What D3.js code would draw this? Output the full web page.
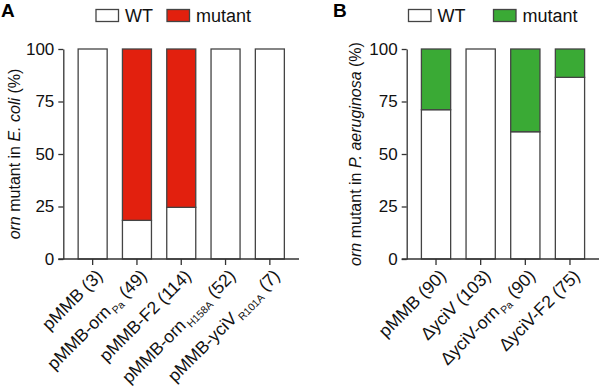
<!DOCTYPE html>
<html>
<head>
<meta charset="utf-8">
<script src="https://cdn.jsdelivr.net/npm/d3@7"></script>
<style>
  body { margin: 0; background: #fff; }
  svg { font-family: "Liberation Sans", Arial, sans-serif; }
</style>
</head>
<body>
<svg id="chart" width="600" height="390"></svg>
<script>
// panel A data (E. coli)
var catsA = ["pMMB (3)", "pMMB-orn Pa (49)", "pMMB-F2 (114)", "pMMB-orn H158A (52)", "pMMB-yciV R101A (7)"];
var wtA = [100, 18.4, 24.6, 100, 100];
var mutA = [0, 81.6, 75.4, 0, 0];

// panel B data (P. aeruginosa)
var catsB = ["pMMB (90)", "ΔyciV (103)", "ΔyciV-orn Pa (90)", "ΔyciV-F2 (75)"];
var wtB = [71.1, 100, 60.6, 86.5];
var mutB = [28.9, 0, 39.4, 13.5];

var yTicks = [0, 25, 50, 75, 100];

// label pieces: [text, subscript, rest]
var labelsA = [["pMMB (3)", "", ""], ["pMMB-orn", "Pa", " (49)"], ["pMMB-F2 (114)", "", ""],
               ["pMMB-orn", "H158A", " (52)"], ["pMMB-yciV", "R101A", " (7)"]];
var labelsB = [["pMMB (90)", "", ""], ["ΔyciV (103)", "", ""], ["ΔyciV-orn", "Pa", " (90)"], ["ΔyciV-F2 (75)", "", ""]];

var svg = d3.select("#chart");
var y = d3.scaleLinear().domain([0, 100]).range([259, 49]);

function panel(opt){
    var g = svg.append("g");
    var x = d3.scaleBand().domain(opt.cats).range(opt.range);
    var bw = x.bandwidth() * 0.655;
    var cx = function(d){ return x(d) + x.bandwidth()/2; };

    // WT part
    g.selectAll(".wt").data(opt.cats).enter().append("rect")
      .attr("x", function(d){ return cx(d) - bw/2; })
      .attr("y", function(d,i){ return y(opt.wt[i]); })
      .attr("width", bw)
      .attr("height", function(d,i){ return y(0) - y(opt.wt[i]); })
      .style("fill", "#fff").style("stroke", "#444").style("stroke-width", 1.3);
    // mutant part
    g.selectAll(".mut").data(opt.cats).enter().append("rect")
      .filter(function(d,i){ return opt.mut[i] > 0; })
      .attr("x", function(d){ return cx(d) - bw/2; })
      .attr("y", function(d){ var i = opt.cats.indexOf(d); return y(opt.wt[i] + opt.mut[i]); })
      .attr("width", bw)
      .attr("height", function(d){ var i = opt.cats.indexOf(d); return y(opt.wt[i]) - y(opt.wt[i] + opt.mut[i]); })
      .style("fill", opt.color).style("stroke", "#444").style("stroke-width", 1.3);

    // y axis
    var ya = g.append("g").attr("transform", "translate(" + opt.axisX + ",0)")
      .call(d3.axisLeft(y).tickValues(yTicks).tickSize(5).tickSizeOuter(0).tickPadding(4));
    ya.selectAll("text").style("font-size", "17px").style("fill", "#111");
    ya.selectAll("line,path").style("stroke", "#333").style("stroke-width", 1.3);

    // x axis
    var xa = g.append("g").attr("transform", "translate(0," + y(0) + ")")
      .call(d3.axisBottom(x).tickSize(6).tickSizeOuter(0).tickFormat(""));
    xa.select("path").attr("d", "M" + (opt.axisX - 5) + ",0H" + opt.xEnd);
    xa.selectAll("line,path").style("stroke", "#333").style("stroke-width", 1.3);

    // category labels
    var lab = g.selectAll(".lab").data(opt.cats).enter().append("text")
      .attr("transform", function(d){ return "translate(" + (cx(d) + 11) + "," + 277 + ") rotate(-45)"; })
      .attr("text-anchor", "end")
      .style("font-size", "17.5px").style("fill", "#111");
    lab.each(function(d,i){
        var p = opt.labels[i];
        var t = d3.select(this);
        t.append("tspan").text(p[0]);
        if (p[1]) {
            t.append("tspan").attr("dx", 2).attr("dy", 4).style("font-size", "10.5px").text(p[1]);
            t.append("tspan").attr("dy", -4).text(p[2]);
        }
    });

    // y title
    var yt = g.append("text")
      .attr("transform", "translate(" + opt.titleX + ",154) rotate(-90)")
      .attr("text-anchor", "middle")
      .style("font-size", "16px").style("fill", "#111");
    yt.append("tspan").style("font-style", "italic").text("orn");
    yt.append("tspan").text(" mutant in ");
    yt.append("tspan").style("font-style", "italic").text(opt.species);
    yt.append("tspan").text(" (%)");

    // panel letter
    g.append("text").attr("x", opt.letterX).attr("y", 17)
      .style("font-size", "19px").style("font-weight", "bold").text(opt.letter);

    // legend
    var keys = [["WT", "#fff"], ["mutant", opt.color]];
    var lg = g.selectAll(".lg").data(keys).enter().append("g")
      .attr("transform", function(d,i){ return "translate(" + opt.legX[i] + ",9.5)"; });
    lg.append("rect").attr("width", 22.5).attr("height", 12)
      .style("fill", function(d){ return d[1]; }).style("stroke", "#444").style("stroke-width", 1.3);
    lg.append("text").attr("x", 29).attr("y", 12.5)
      .style("font-size", "18px").style("fill", "#111").text(function(d){ return d[0]; });
}

panel({cats: catsA, wt: wtA, mut: mutA, labels: labelsA, color: "#e2200e",
       range: [70.5, 292], axisX: 63.3, xEnd: 299, titleX: 20, species: "E. coli",
       letter: "A", letterX: 1, legX: [96, 167]});
panel({cats: catsB, wt: wtB, mut: mutB, labels: labelsB, color: "#3aaa35",
       range: [413.7, 592.3], axisX: 406.7, xEnd: 599, titleX: 361, species: "P. aeruginosa",
       letter: "B", letterX: 333, legX: [408.5, 493.5]});
</script>
</body>
</html>
